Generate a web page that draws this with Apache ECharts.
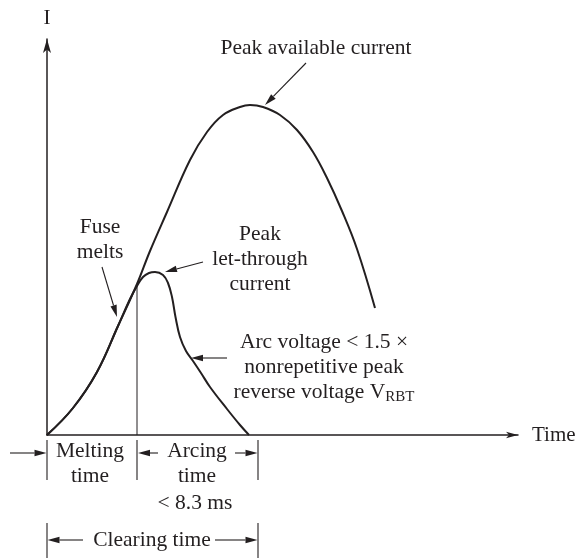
<!DOCTYPE html>
<html>
<head>
<meta charset="utf-8">
<script src="https://cdn.jsdelivr.net/npm/echarts@6/dist/echarts.min.js"></script>
<style>
html, body { margin: 0; padding: 0; background: #fff; }
#chart { width: 585px; height: 559px; }
</style>
</head>
<body>
<div id="chart"></div>
<script>
// schematic: time and current in arbitrary units (no tick values in the figure)
const availableT = [0, 2.6, 5.0, 7.1, 9.0, 10.3, 12.0, 14.3, 16.0, 17.6, 19.3, 20.3, 21.6, 23.3, 25.0, 26.6, 28.0, 29.5, 31.0, 32.8];
const availableI = [0, 2.7, 6.3, 10.9, 15.1, 18.4, 22.3, 27.5, 30.3, 32.0, 32.8, 33.0, 32.8, 32.0, 30.5, 28.3, 25.7, 22.4, 18.6, 12.7];

const letThroughT = [0, 2.6, 5.0, 7.1, 8.3, 9.0, 9.6, 10.2, 10.8, 11.6, 12.1, 12.5, 12.85, 13.3, 13.9, 14.6, 15.4, 16.3, 18.0, 19.3, 20.2];
const letThroughI = [0, 2.7, 6.3, 10.9, 13.6, 14.9, 15.8, 16.2, 16.3, 16.0, 15.2, 13.8, 11.8, 9.8, 8.4, 7.4, 6.2, 4.8, 2.6, 1.0, 0];

const meltingTime = 9.0;   // fuse melts here
const meltingCurrent = 15.0;
const clearingTime = 21.1; // end of arcing

// annotation arrows: [fromT, fromI, toT, toI]
const arrows = [
    [25.9, 37.2, 21.8, 33.0],
    [5.5, 16.8, 7.0, 11.8],
    [15.6, 17.3, 11.8, 16.3],
    [18.0, 7.7, 14.4, 7.7],
    [-3.7, -1.8, -0.05, -1.8],
    [11.1, -1.8, meltingTime + 0.1, -1.8],
    [18.8, -1.8, clearingTime - 0.05, -1.8],
    [3.6, -10.5, 0.05, -10.5],
    [16.8, -10.5, clearingTime - 0.05, -10.5]
];

// dimension ticks under the time axis: [t, fromI, toI]
const ticks = [
    [0, -0.5, -4.5], [meltingTime, -0.5, -4.5], [clearingTime, -0.5, -4.5],
    [0, -8.8, -12.3], [clearingTime, -8.8, -12.3]
];

const notes = [
    { t: 26.9, i: 38.7, text: 'Peak available current' },
    { t: 5.3, i: 19.5, text: 'Fuse\nmelts' },
    { t: 21.3, i: 17.6, text: 'Peak\nlet-through\ncurrent' },
    { t: 27.7, i: 6.8, text: 'Arc voltage < 1.5 ×\nnonrepetitive peak\nreverse voltage V{sub|RBT}' },
    { t: 4.3, i: -2.85, text: 'Melting\ntime' },
    { t: 15.0, i: -2.85, text: 'Arcing\ntime' },
    { t: 14.8, i: -6.8, text: '< 8.3 ms' },
    { t: 10.5, i: -10.5, text: 'Clearing time' }
];

const ink = '#231f20';
const font = 'Liberation Serif';

const chart = echarts.init(document.getElementById('chart'));

const axisCommon = {
    type: 'value',
    axisTick: { show: false },
    axisLabel: { show: false },
    splitLine: { show: false },
    nameTextStyle: { color: ink, fontFamily: font, fontSize: 21 }
};

const option = {
    animation: false,
    backgroundColor: '#fff',
    grid: { left: 47, right: 67, top: 39, bottom: 124, outerBoundsMode: 'none' },
    xAxis: Object.assign({}, axisCommon, {
        min: 0, max: 47.1,
        name: 'Time', nameLocation: 'end', nameGap: 14,
        axisLine: { show: true, onZero: false, symbol: ['none', 'arrow'], symbolSize: [5, 12], lineStyle: { color: ink, width: 1.5 } }
    }),
    yAxis: Object.assign({}, axisCommon, {
        min: 0, max: 39.6,
        name: 'I', nameLocation: 'end', nameGap: 10,
        axisLine: { show: true, onZero: false, symbol: ['none', 'arrow'], symbolSize: [6, 14], lineStyle: { color: ink, width: 1.5 } }
    }),
    series: [
        {
            name: 'Peak available current',
            type: 'line',
            data: availableT.map((t, k) => [t, availableI[k]]),
            smooth: 0.4,
            showSymbol: false,
            clip: false,
            lineStyle: { color: ink, width: 2 }
        },
        {
            name: 'Peak let-through current',
            type: 'line',
            data: letThroughT.map((t, k) => [t, letThroughI[k]]),
            smooth: 0.4,
            showSymbol: false,
            clip: false,
            lineStyle: { color: ink, width: 2 }
        },
        {
            name: 'Melting',
            type: 'line',
            data: [[meltingTime, 0], [meltingTime, meltingCurrent]],
            showSymbol: false,
            lineStyle: { color: ink, width: 1 }
        },
        {
            type: 'custom',
            clip: false,
            data: arrows,
            encode: { x: [0, 2], y: [1, 3] },
            renderItem: function (params, api) {
                const a = api.coord([api.value(0), api.value(1)]);
                const b = api.coord([api.value(2), api.value(3)]);
                const ang = Math.atan2(b[1] - a[1], b[0] - a[0]);
                const c = Math.cos(ang), s = Math.sin(ang);
                const len = 12, half = 3.2;
                const bx = b[0] - len * c, by = b[1] - len * s;
                return {
                    type: 'group',
                    children: [
                        { type: 'line', shape: { x1: a[0], y1: a[1], x2: bx, y2: by }, style: { stroke: ink, lineWidth: 1.1 } },
                        { type: 'polygon', shape: { points: [b, [bx - half * s, by + half * c], [bx + half * s, by - half * c]] }, style: { fill: ink } }
                    ]
                };
            }
        },
        {
            type: 'custom',
            clip: false,
            data: ticks,
            encode: { x: 0, y: [1, 2] },
            renderItem: function (params, api) {
                const a = api.coord([api.value(0), api.value(1)]);
                const b = api.coord([api.value(0), api.value(2)]);
                return { type: 'line', shape: { x1: a[0], y1: a[1], x2: b[0], y2: b[1] }, style: { stroke: ink, lineWidth: 1.1 } };
            }
        },
        {
            type: 'custom',
            clip: false,
            data: notes.map(n => [n.t, n.i]),
            encode: { x: 0, y: 1 },
            renderItem: function (params, api) {
                const p = api.coord([api.value(0), api.value(1)]);
                return {
                    type: 'text',
                    x: p[0], y: p[1],
                    style: {
                        text: notes[params.dataIndex].text,
                        fill: ink,
                        fontFamily: font,
                        fontSize: 21.5,
                        lineHeight: 25,
                        align: 'center',
                        verticalAlign: 'middle',
                        rich: {
                            sub: { fontFamily: font, fontSize: 15, lineHeight: 25, verticalAlign: 'bottom', fill: ink }
                        }
                    }
                };
            }
        }
    ]
};

chart.setOption(option);
window.addEventListener('resize', () => chart.resize());
</script>
</body>
</html>
